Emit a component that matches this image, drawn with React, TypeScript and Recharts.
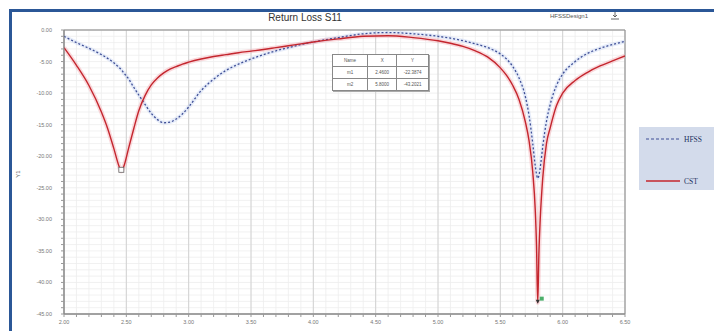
import React from 'react';
import { LineChart, Line, XAxis, YAxis, CartesianGrid, ReferenceArea, ReferenceDot } from 'recharts';

// Frequency sweep (GHz), denser around the two resonances
const freqGHz = [
  2.0, 2.1, 2.2, 2.3, 2.35, 2.4, 2.44, 2.46, 2.48, 2.52, 2.56, 2.6, 2.65, 2.7, 2.75, 2.8, 2.85, 2.9, 2.95,
  3.0, 3.1, 3.2, 3.3, 3.4, 3.5, 3.6, 3.7, 3.8, 3.9, 4.0, 4.2, 4.4, 4.6, 4.8, 5.0, 5.1, 5.2, 5.3, 5.4,
  5.5, 5.55, 5.6, 5.65, 5.7, 5.73, 5.76, 5.78, 5.79, 5.8, 5.81, 5.82, 5.84, 5.87, 5.9, 5.95, 6.0, 6.1,
  6.2, 6.3, 6.4, 6.5,
];

// S11 in dB, HFSS simulation
const hfssDb = [
  -1.0, -2.0, -2.9, -3.9, -4.5, -5.2, -5.9, -6.3, -6.8, -7.8, -9.1, -10.3, -11.8, -13.2, -14.2, -14.7, -14.6, -14.1, -13.3,
  -12.2, -9.6, -7.8, -6.4, -5.4, -4.6, -3.9, -3.3, -2.8, -2.3, -1.9, -1.2, -0.6, -0.4, -0.6, -1.0, -1.3, -1.7, -2.2, -2.8,
  -3.8, -4.6, -5.8, -7.6, -10.5, -13.5, -18.0, -21.5, -22.8, -23.5, -23.0, -21.8, -18.5, -14.5, -11.8, -8.8, -7.0, -5.0,
  -3.7, -2.9, -2.3, -1.8,
];

// S11 in dB, CST simulation
const cstDb = [
  -2.8, -5.6, -8.8, -13.0, -15.6, -18.8, -21.5, -22.39, -21.6, -18.6, -15.6, -12.8, -10.4, -8.7, -7.6, -6.8, -6.2, -5.8, -5.4,
  -5.1, -4.6, -4.2, -3.9, -3.6, -3.35, -3.1, -2.8, -2.5, -2.2, -1.9, -1.4, -1.0, -0.9, -1.2, -1.7, -2.1, -2.6, -3.3, -4.3,
  -6.0, -7.2, -8.8, -11.0, -14.5, -17.5, -22.5, -28.5, -34.0, -43.2, -35.0, -30.0, -23.5, -18.0, -15.5, -12.0, -10.0, -8.0,
  -6.7, -5.7, -4.9, -4.1,
];

const majorFreqTicks = [2.0, 2.5, 3.0, 3.5, 4.0, 4.5, 5.0, 5.5, 6.0, 6.5];
const majorDbTicks = [0, -5, -10, -15, -20, -25, -30, -35, -40, -45];

const markerRows = [
  { name: 'Name', x: 'X', y: 'Y' },
  { name: 'm1', x: '2.4600', y: '-22.3874' },
  { name: 'm2', x: '5.8000', y: '-43.2021' },
];

const data = freqGHz.map((f, i) => ({ f, hfss: hfssDb[i], cst: cstDb[i] }));

// minor subdivisions between the major ticks
const minorFreqTicks: number[] = [];
for (let i = 0; i <= 45; i++) minorFreqTicks.push(Math.round((2 + i * 0.1) * 100) / 100);
const minorDbTicks: number[] = [];
for (let i = 0; i <= 45; i++) minorDbTicks.push(-i);

const FONT = '"Liberation Sans", Arial, sans-serif';

const isMajor = (v: number, step: number) => Math.abs(v / step - Math.round(v / step)) < 1e-6;

const XTick = (props: any) => {
  const { x, y, payload } = props;
  if (!isMajor(payload.value, 0.5)) return <g />;
  return (
    <text x={x} y={y} dy={5} textAnchor="middle" fontSize={5.5} fill="#777" fontFamily={FONT}>
      {payload.value.toFixed(2)}
    </text>
  );
};

const YTick = (props: any) => {
  const { x, y, payload } = props;
  if (!isMajor(payload.value, 5)) return <g />;
  return (
    <text x={x} y={y} dy={2} textAnchor="end" fontSize={5.5} fill="#777" fontFamily={FONT}>
      {payload.value.toFixed(2)}
    </text>
  );
};

const M1Shape = (props: any) => (
  <rect x={props.cx - 2.5} y={props.cy - 4} width={5} height={5} fill="#fff" stroke="#666" strokeWidth={0.8} />
);

const M2Shape = (props: any) => (
  <g>
    <path d={`M${props.cx - 2},${props.cy - 3} L${props.cx + 2},${props.cy - 3} L${props.cx},${props.cy + 1} Z`} fill="#333" />
    <rect x={props.cx + 2} y={props.cy - 6} width={4} height={4} fill="#4caf6a" />
  </g>
);

export default function App() {
  return (
    <div style={{ position: 'absolute', left: 0, top: 0, width: 714, height: 331, overflow: 'hidden', background: '#fff' }}>
      <div
        style={{
          position: 'absolute', left: 9, top: 9, width: 800, height: 400,
          borderLeft: '3px solid #2b5797', borderTop: '3px solid #2b5797',
        }}
      />
      <div style={{ position: 'absolute', left: 0, top: 0 }}>
        <LineChart width={714} height={331} data={data} margin={{ top: 30, right: 89, bottom: 0, left: 0 }}>
          <XAxis
            dataKey="f" type="number" domain={[2, 6.5]} ticks={minorFreqTicks} interval={0}
            height={17} tickSize={3} tickMargin={2} tick={<XTick />}
            axisLine={{ stroke: '#888' }} tickLine={{ stroke: '#999' }} allowDataOverflow
          />
          <YAxis
            type="number" domain={[-45, 0]} ticks={minorDbTicks} interval={0}
            width={64} tickSize={3} tickMargin={9} tick={<YTick />}
            axisLine={{ stroke: '#888' }} tickLine={{ stroke: '#999' }} allowDataOverflow
          />
          <XAxis xAxisId="maj" dataKey="f" type="number" domain={[2, 6.5]} ticks={majorFreqTicks} hide />
          <YAxis yAxisId="maj" type="number" domain={[-45, 0]} ticks={majorDbTicks} hide />
          <CartesianGrid stroke="#eeeeee" strokeWidth={0.8} />
          <CartesianGrid xAxisId="maj" yAxisId="maj" stroke="#cfcfcf" strokeWidth={0.9} />
          <ReferenceArea x1={2} x2={6.5} y1={-45} y2={0} fill="none" stroke="#8f8f8f" strokeWidth={1} ifOverflow="visible" />
          <Line dataKey="hfss" type="monotone" stroke="#b9cbf0" strokeWidth={4} strokeOpacity={0.35} dot={false} isAnimationActive={false} />
          <Line dataKey="cst" type="monotone" stroke="#f2a3aa" strokeWidth={4.5} strokeOpacity={0.4} dot={false} isAnimationActive={false} />
          <Line dataKey="hfss" type="monotone" stroke="#3f4f96" strokeWidth={1.3} strokeDasharray="2 2" dot={false} isAnimationActive={false} />
          <Line dataKey="cst" type="monotone" stroke="#c4262e" strokeWidth={1.4} dot={false} isAnimationActive={false} />
          <ReferenceDot x={2.46} y={-22.39} shape={<M1Shape />} ifOverflow="visible" />
          <ReferenceDot x={5.8} y={-43.2} shape={<M2Shape />} ifOverflow="visible" />
        </LineChart>
      </div>

      {/* title and design name */}
      <div style={{ position: 'absolute', left: 250, width: 110, top: 12, textAlign: 'center', fontFamily: FONT, fontSize: 10, color: '#333' }}>
        Return Loss S11
      </div>
      <div style={{ position: 'absolute', left: 550, top: 13, fontFamily: FONT, fontSize: 6, color: '#555' }}>
        HFSSDesign1
      </div>
      <svg style={{ position: 'absolute', left: 610, top: 11 }} width={10} height={10}>
        <path d="M5,1 L5,6 M3,4 L5,6 L7,4 M1,8 L9,8" stroke="#555" strokeWidth={0.9} fill="none" />
      </svg>

      {/* y axis name */}
      <div style={{ position: 'absolute', left: 14, top: 171, transform: 'rotate(-90deg)', fontFamily: FONT, fontSize: 6, color: '#666' }}>
        Y1
      </div>

      {/* marker table */}
      <table
        style={{
          position: 'absolute', left: 332, top: 54, width: 97, height: 36, borderCollapse: 'collapse',
          background: '#fff', fontFamily: FONT, fontSize: 4.5, color: '#555', boxShadow: '1px 1px 0 #aaa',
        }}
      >
        <tbody>
          {markerRows.map((r) => (
            <tr key={r.name} style={{ height: 12 }}>
              <td style={{ border: '1px solid #888', width: 36, textAlign: 'center', padding: 0 }}>{r.name}</td>
              <td style={{ border: '1px solid #888', width: 29, textAlign: 'center', padding: 0 }}>{r.x}</td>
              <td style={{ border: '1px solid #888', width: 32, textAlign: 'center', padding: 0 }}>{r.y}</td>
            </tr>
          ))}
        </tbody>
      </table>

      {/* legend */}
      <div style={{ position: 'absolute', left: 639, top: 127, width: 80, height: 63, background: '#d3dbeb' }}>
        <svg style={{ position: 'absolute', left: 0, top: 0 }} width={80} height={63}>
          <line x1={7} y1={12} x2={41} y2={12} stroke="#3f4f96" strokeWidth={1.2} strokeDasharray="3 2" />
          <line x1={7} y1={54} x2={41} y2={54} stroke="#c4262e" strokeWidth={1.3} />
          <text x={45} y={15} fontSize={7.5} fill="#22315e" fontFamily='"Liberation Serif", serif'>HFSS</text>
          <text x={45} y={57} fontSize={7.5} fill="#22315e" fontFamily='"Liberation Serif", serif'>CST</text>
        </svg>
      </div>
    </div>
  );
}
